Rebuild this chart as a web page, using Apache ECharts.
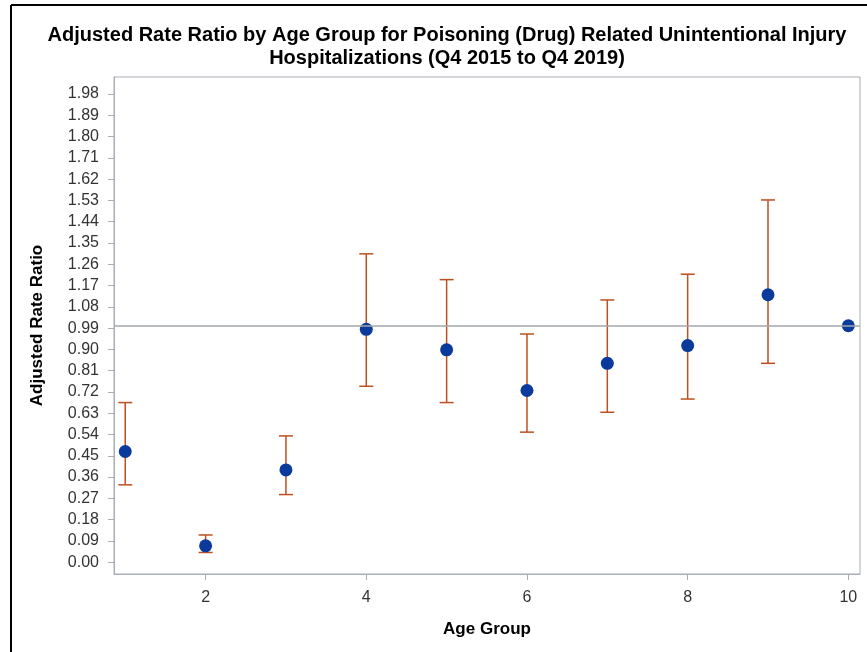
<!DOCTYPE html>
<html>
<head>
<meta charset="utf-8">
<script src="https://cdn.jsdelivr.net/npm/echarts@6.0.0/dist/echarts.min.js"></script>
<style>
  html, body { margin: 0; padding: 0; background: #fff; }
  #chart { width: 867px; height: 652px; }
</style>
</head>
<body>
<div id="chart"></div>
<script>
// age groups and estimates
const ageGroups = [1, 2, 3, 4, 5, 6, 7, 8, 9, 10];
const rateRatio = [0.468, 0.069, 0.390, 0.985, 0.898, 0.726, 0.841, 0.916, 1.131, 1.0];
const upperCI = [0.675, 0.115, 0.534, 1.304, 1.195, 0.965, 1.109, 1.218, 1.532, null];
const lowerCI = [0.327, 0.041, 0.286, 0.744, 0.675, 0.550, 0.634, 0.690, 0.841, null];

const xTicks = [2, 4, 6, 8, 10];
const yTicks = [0, 0.09, 0.18, 0.27, 0.36, 0.45, 0.54, 0.63, 0.72, 0.81, 0.9, 0.99,
  1.08, 1.17, 1.26, 1.35, 1.44, 1.53, 1.62, 1.71, 1.8, 1.89, 1.98];
const refValue = 1;

var chart = echarts.init(document.getElementById('chart'));

const axisGray = '#A9AEB4';
const barColor = '#BD4F22';
const dotColor = '#0A3A9C';
const font = 'Liberation Sans, Arial, sans-serif';

const points = ageGroups.map((g, i) => [g, rateRatio[i]]);
const bars = ageGroups
  .map((g, i) => [g, lowerCI[i], upperCI[i]])
  .filter(d => d[1] != null);

var option = {
  animation: false,
  title: {
    text: 'Adjusted Rate Ratio by Age Group for Poisoning (Drug) Related Unintentional Injury\nHospitalizations (Q4 2015 to Q4 2019)',
    left: 442,
    top: 19,
    textAlign: 'center',
    textStyle: {
      fontFamily: font,
      fontSize: 20,
      fontWeight: 'bold',
      color: '#000',
      lineHeight: 23
    }
  },
  grid: {
    left: 114,
    right: 7,
    top: 77,
    bottom: 78,
    show: true,
    borderColor: axisGray,
    borderWidth: 1
  },
  xAxis: {
    type: 'value',
    min: 0.86,
    max: 10.145,
    name: 'Age Group',
    nameLocation: 'middle',
    nameGap: 47,
    nameTextStyle: { fontFamily: font, fontSize: 17, fontWeight: 'bold', color: '#000' },
    axisLine: { onZero: false, lineStyle: { color: axisGray } },
    axisTick: { customValues: xTicks, length: 6, lineStyle: { color: axisGray } },
    axisLabel: {
      customValues: xTicks,
      fontFamily: font, fontSize: 16, color: '#333', margin: 16
    },
    splitLine: { show: false }
  },
  yAxis: {
    type: 'value',
    min: -0.05,
    max: 2.052,
    name: 'Adjusted Rate Ratio',
    nameLocation: 'middle',
    nameGap: 68,
    nameTextStyle: { fontFamily: font, fontSize: 17, fontWeight: 'bold', color: '#000' },
    axisLine: { show: true, onZero: false, lineStyle: { color: axisGray } },
    axisTick: { show: true, customValues: yTicks, length: 6, lineStyle: { color: axisGray } },
    axisLabel: {
      customValues: yTicks,
      formatter: v => v.toFixed(2),
      fontFamily: font, fontSize: 16, color: '#333', margin: 15
    },
    splitLine: { show: false }
  },
  series: [
    {
      type: 'custom',
      name: 'CI',
      data: bars,
      renderItem: function (params, api) {
        const x = api.value(0);
        const lo = api.coord([x, api.value(1)]);
        const hi = api.coord([x, api.value(2)]);
        const hw = 7;
        const style = { stroke: barColor, lineWidth: 1.5 };
        return {
          type: 'group',
          children: [
            { type: 'line', shape: { x1: lo[0], y1: lo[1], x2: hi[0], y2: hi[1] }, style },
            { type: 'line', shape: { x1: hi[0] - hw, y1: hi[1], x2: hi[0] + hw, y2: hi[1] }, style },
            { type: 'line', shape: { x1: lo[0] - hw, y1: lo[1], x2: lo[0] + hw, y2: lo[1] }, style }
          ]
        };
      },
      z: 2
    },
    {
      type: 'scatter',
      name: 'Rate Ratio',
      data: points,
      symbol: 'circle',
      symbolSize: 13,
      itemStyle: { color: dotColor, opacity: 1 },
      markLine: {
        silent: true,
        symbol: 'none',
        label: { show: false },
        lineStyle: { color: '#A3A8AD', type: 'solid', width: 1.5 },
        data: [{ yAxis: refValue }]
      },
      z: 3
    }
  ],
  graphic: [
    { type: 'line', shape: { x1: 11, y1: 5, x2: 867, y2: 5 }, style: { stroke: '#000', lineWidth: 2 } },
    { type: 'line', shape: { x1: 11, y1: 5, x2: 11, y2: 652 }, style: { stroke: '#000', lineWidth: 2 } }
  ]
};

option && chart.setOption(option);
</script>
</body>
</html>
